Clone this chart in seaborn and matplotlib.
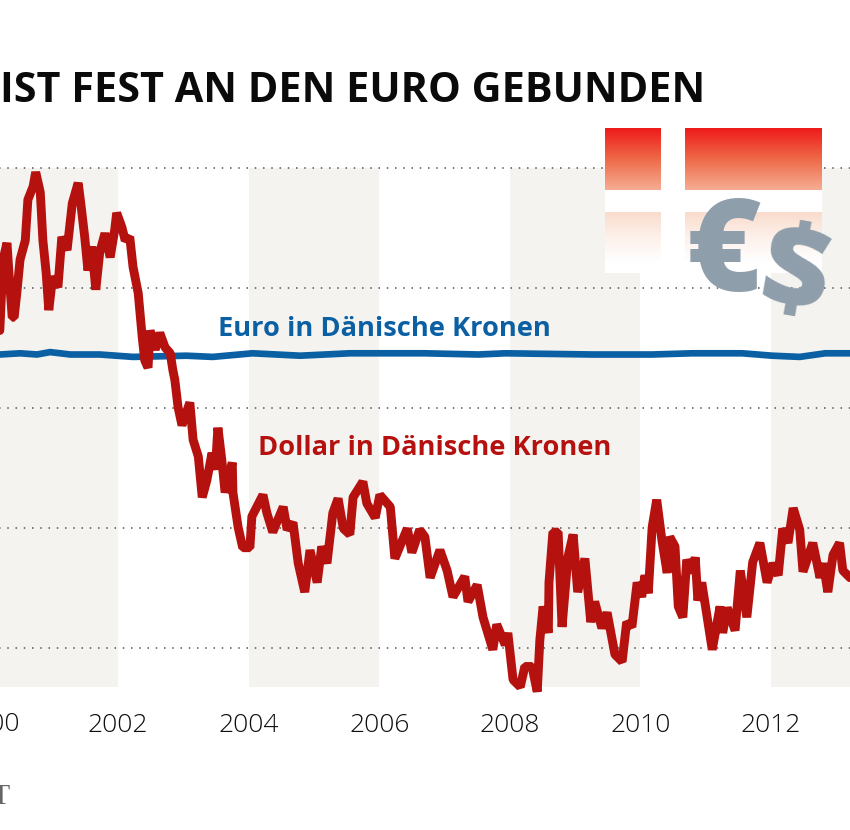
#!/usr/bin/env python3
"""Dollar und Euro in Daenischen Kronen, 2000-2013."""

import numpy as np
import pandas as pd
import matplotlib
matplotlib.use("Agg")
import matplotlib.pyplot as plt
import matplotlib.colors as mcolors
from matplotlib.patches import Rectangle
import seaborn as sns

# -- data ---------------------------------------------------------------------
usd_years = [
    2000.19, 2000.24, 2000.30, 2000.33, 2000.38, 2000.41, 2000.45, 2000.50, 2000.58, 2000.62,
    2000.70, 2000.74, 2000.81, 2000.85, 2000.90, 2000.94, 2001.00, 2001.08, 2001.14, 2001.22,
    2001.30, 2001.39, 2001.43, 2001.49, 2001.54, 2001.60, 2001.66, 2001.72, 2001.80, 2001.88,
    2001.95, 2001.98, 2002.06, 2002.11, 2002.18, 2002.23, 2002.31, 2002.37, 2002.41, 2002.46,
    2002.49, 2002.57, 2002.64, 2002.72, 2002.80, 2002.84, 2002.87, 2002.92, 2002.98, 2003.10,
    2003.15, 2003.23, 2003.29, 2003.36, 2003.44, 2003.49, 2003.53, 2003.59, 2003.64, 2003.75,
    2003.76, 2003.84, 2003.91, 2004.02, 2004.05, 2004.22, 2004.28, 2004.37, 2004.53, 2004.59,
    2004.68, 2004.76, 2004.86, 2004.94, 2005.05, 2005.12, 2005.20, 2005.29, 2005.37, 2005.45,
    2005.55, 2005.60, 2005.75, 2005.81, 2005.94, 2006.01, 2006.17, 2006.24, 2006.43, 2006.50,
    2006.62, 2006.70, 2006.78, 2006.93, 2007.04, 2007.13, 2007.31, 2007.36, 2007.50, 2007.59,
    2007.74, 2007.80, 2007.93, 2007.97, 2008.05, 2008.16, 2008.23, 2008.34, 2008.42, 2008.46,
    2008.51, 2008.59, 2008.60, 2008.66, 2008.74, 2008.80, 2008.89, 2008.97, 2009.04, 2009.15,
    2009.24, 2009.30, 2009.41, 2009.49, 2009.61, 2009.72, 2009.79, 2009.87, 2009.95, 2010.02,
    2010.07, 2010.12, 2010.18, 2010.25, 2010.33, 2010.41, 2010.45, 2010.53, 2010.58, 2010.65,
    2010.71, 2010.79, 2010.84, 2010.88, 2010.94, 2011.10, 2011.22, 2011.26, 2011.33, 2011.45,
    2011.53, 2011.63, 2011.72, 2011.83, 2011.94, 2012.03, 2012.11, 2012.18, 2012.26, 2012.34,
    2012.44, 2012.49, 2012.64, 2012.75, 2012.80, 2012.87, 2012.95, 2013.05, 2013.10, 2013.21,
]
usd_values = [
    7.65, 8.24, 8.38, 8.13, 7.76, 7.76, 7.96, 8.24, 8.40, 8.74,
    8.85, 8.97, 8.80, 8.40, 8.13, 7.82, 8.10, 8.01, 8.43, 8.32,
    8.71, 8.88, 8.71, 8.43, 8.15, 8.35, 7.99, 8.30, 8.46, 8.26,
    8.49, 8.63, 8.51, 8.40, 8.43, 8.18, 7.96, 7.60, 7.40, 7.34,
    7.65, 7.49, 7.63, 7.51, 7.46, 7.32, 7.24, 7.01, 6.86, 7.05,
    6.74, 6.60, 6.26, 6.40, 6.63, 6.49, 6.84, 6.57, 6.30, 6.55,
    6.30, 6.01, 5.84, 5.84, 6.10, 6.28, 6.13, 5.97, 6.18, 5.99,
    6.05, 5.71, 5.47, 5.82, 5.55, 5.85, 5.71, 6.13, 6.25, 6.00,
    5.95, 6.26, 6.39, 6.21, 6.09, 6.28, 6.18, 5.75, 6.00, 5.80,
    5.99, 5.93, 5.59, 5.82, 5.65, 5.43, 5.60, 5.39, 5.53, 5.26,
    4.99, 5.20, 5.03, 5.13, 4.74, 4.68, 4.85, 4.85, 4.64, 5.07,
    5.35, 5.13, 5.55, 5.97, 5.97, 5.18, 5.76, 5.95, 5.47, 5.75,
    5.22, 5.39, 5.17, 5.30, 4.95, 4.89, 5.22, 5.18, 5.55, 5.43,
    5.61, 5.46, 6.01, 6.24, 5.90, 5.63, 5.93, 5.85, 5.35, 5.26,
    5.74, 5.63, 5.76, 5.40, 5.55, 4.99, 5.35, 5.13, 5.34, 5.15,
    5.65, 5.26, 5.72, 5.88, 5.55, 5.71, 5.61, 6.00, 5.88, 6.17,
    5.99, 5.64, 5.88, 5.59, 5.71, 5.47, 5.78, 5.88, 5.65, 5.59,
]
eur_years = [
    2000.19, 2000.50, 2000.76, 2000.96, 2001.27, 2001.72, 2002.23, 2003.05,
    2003.45, 2004.06, 2004.79, 2005.55, 2006.06, 2006.70, 2007.52, 2007.93,
    2009.26, 2010.18, 2010.79, 2011.56, 2012.02, 2012.44, 2012.83, 2013.21,
]
eur_values = [
    7.45, 7.46, 7.45, 7.47, 7.45, 7.45, 7.43, 7.44,
    7.43, 7.46, 7.44, 7.46, 7.46, 7.46, 7.45, 7.46,
    7.45, 7.45, 7.46, 7.46, 7.44, 7.43, 7.46, 7.46,
]
grid_values = [5, 6, 7, 8, 9]
band_starts = [2000, 2004, 2008, 2012]
tick_years = [2002, 2004, 2006, 2008, 2010, 2012]

usd = pd.DataFrame({"jahr": usd_years, "kurs": usd_values})
eur = pd.DataFrame({"jahr": eur_years, "kurs": eur_values})

# -- colours ------------------------------------------------------------------
red = "#B5120F"
blue = "#0B5FA3"
band = "#F4F3EF"
symbol_grey = "#8F9EAB"

# -- figure -------------------------------------------------------------------
sns.set_theme(style="white")
plt.rcParams["font.family"] = ["Open Sans", "DejaVu Sans"]

W, H = 850, 830
fig = plt.figure(figsize=(W / 100, H / 100), dpi=100, facecolor="white")
ax = fig.add_axes([0, (H - 687) / H, 1, (687 - 168.5) / H])

for start in band_starts:
    ax.axvspan(start, start + 2, color=band, lw=0, zorder=0)
ax.hlines(grid_values, 2000, 2014, colors="#555555", lw=1.1,
          linestyles=[(0, (1, 4.4))], zorder=1, clip_on=False)

sns.lineplot(data=eur, x="jahr", y="kurs", ax=ax, color=blue, lw=4.8,
             sort=False, estimator=None, zorder=3)
sns.lineplot(data=usd, x="jahr", y="kurs", ax=ax, color=red, lw=6.4,
             sort=False, estimator=None, zorder=4, clip_on=False,
             solid_joinstyle="bevel")

ax.set_xlim(2000.193, 2000.193 + W / 65.3)
ax.set_ylim(9 - (687 - 168.5) / 120, 9)
ax.set_xlabel("")
ax.set_ylabel("")
ax.set_yticks([])
ax.set_xticks(tick_years)
ax.set_xticklabels(tick_years, fontsize=19, color="#0E0E0E", fontweight="light")
ax.tick_params(axis="x", length=0, pad=18.5)
sns.despine(ax=ax, left=True, bottom=True)

# 2000 sits left of the crop, only its last digits show
fig.text(-10 / W, 1 - 724 / H, "2000", ha="center", va="center",
         fontsize=19, color="#0E0E0E", fontweight="light")

fig.text(218 / W, 1 - 329 / H, "Euro in Dänische Kronen", ha="left", va="center",
         fontsize=19.6, fontweight="bold", color=blue)
fig.text(258 / W, 1 - 448 / H, "Dollar in Dänische Kronen", ha="left", va="center",
         fontsize=19.6, fontweight="bold", color=red)

fig.text(0, 1 - 91 / H, "IST FEST AN DEN EURO GEBUNDEN", ha="left", va="center",
         fontsize=29.8, fontweight="bold", color="#0A0A0A")
fig.text(11 / W, 1 - 797 / H, "WELT", ha="right", va="center", fontsize=21,
         family="Liberation Serif", color="#666666")

# -- Danish flag fading out, behind the currency signs ------------------------
flag = fig.add_axes([605 / W, (H - 273) / H, 217 / W, 145 / H])
flag.set_axis_off()
flag.add_patch(Rectangle((605, 128), 217, 145, color="white", lw=0, zorder=0))
top_cmap = mcolors.LinearSegmentedColormap.from_list("t", ["#EE1B1B", "#EE6A48", "#F6AC93"])
low_cmap = mcolors.LinearSegmentedColormap.from_list("l", ["#F9DCCD", "#FDF1EA", "#FFFFFF"])
grad = np.linspace(0, 1, 64).reshape(-1, 1)
for x0, x1 in [(605, 661), (685, 822)]:
    flag.imshow(grad, cmap=top_cmap, extent=(x0, x1, 190, 128), aspect="auto", zorder=1)
    flag.imshow(grad, cmap=low_cmap, extent=(x0, x1, 262, 212), aspect="auto", zorder=1)
flag.set_xlim(605, 822)
flag.set_ylim(273, 128)

fig.text(724 / W, 1 - 258 / H, "€", ha="center", va="center", fontsize=92,
         fontweight=800, color=symbol_grey)
fig.text(795 / W, 1 - 279 / H, "$", ha="center", va="center", fontsize=84,
         fontweight=800, rotation=-10, color=symbol_grey)

fig.savefig("out.png", dpi=100, facecolor="white")
plt.close(fig)
